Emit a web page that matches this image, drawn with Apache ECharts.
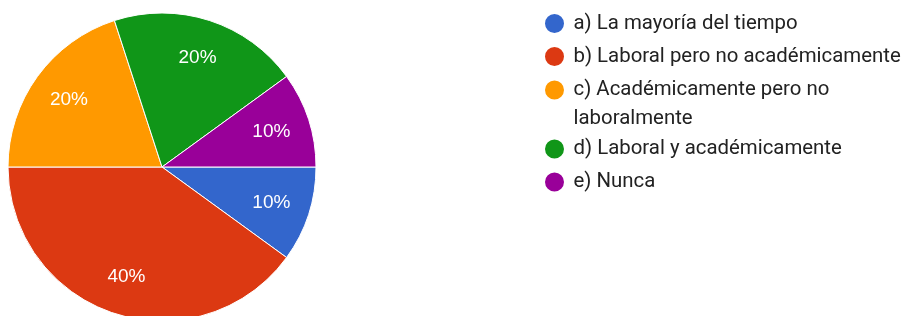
<!DOCTYPE html>
<html>
<head>
<meta charset="utf-8">
<script src="https://cdn.jsdelivr.net/npm/echarts@6/dist/echarts.min.js"></script>
<style>
  html, body { margin: 0; padding: 0; background: #fff; }
  #chart { width: 903px; height: 316px; }
</style>
</head>
<body>
<div id="chart"></div>
<script>
// answers and their share (%)
const categories = [
  'a) La mayoría del tiempo',
  'b) Laboral pero no académicamente',
  'c) Académicamente pero no laboralmente',
  'd) Laboral y académicamente',
  'e) Nunca'
]
const values = [10, 40, 20, 20, 10]
const colors = ['#3366cc', '#dc3912', '#ff9900', '#109618', '#990099']

const chart = echarts.init(document.getElementById('chart'))

const pieData = categories.map((name, i) => ({
  name,
  value: values[i],
  itemStyle: { color: colors[i] }
}))

// long names wrap onto a second line, icon stays beside the first one
const wrapName = name => {
  if (name.length < 35) return name
  const cut = name.lastIndexOf(' ', 27)
  return `{l1|${name.slice(0, cut)}}\n{l2|${name.slice(cut + 1)}}`
}

const option = {
  animation: false,
  legend: {
    orient: 'vertical',
    left: 538,
    top: 6,
    icon: 'circle',
    itemWidth: 28,
    itemHeight: 21,
    itemGap: 8,
    selectedMode: false,
    data: categories,
    formatter: wrapName,
    textStyle: {
      fontFamily: 'Roboto',
      fontSize: 20.4,
      color: '#222',
      lineHeight: 25,
      rich: {
        l1: { lineHeight: 25, padding: [2.5, 0, 2.5, 0] },
        l2: { lineHeight: 1, padding: [18.5, 0, -13.5, 0] }
      }
    }
  },
  series: [
    {
      type: 'pie',
      center: [162, 167],
      radius: [0, 154],
      startAngle: 0,
      clockwise: true,
      silent: true,
      label: { show: false },
      labelLine: { show: false },
      itemStyle: { borderColor: '#fff', borderWidth: 1 },
      data: pieData
    },
    {
      // transparent ring only used to place the % labels
      type: 'pie',
      center: [162, 167],
      radius: [70, 154],
      startAngle: 0,
      clockwise: true,
      silent: true,
      legendHoverLink: false,
      itemStyle: { color: 'transparent' },
      label: {
        show: true,
        position: 'inside',
        formatter: '{c}%',
        color: '#fff',
        fontFamily: 'Liberation Sans',
        fontSize: 19
      },
      labelLine: { show: false },
      data: categories.map((name, i) => ({ name: name + ' ', value: values[i] }))
    }
  ]
}

chart.setOption(option)
</script>
</body>
</html>
